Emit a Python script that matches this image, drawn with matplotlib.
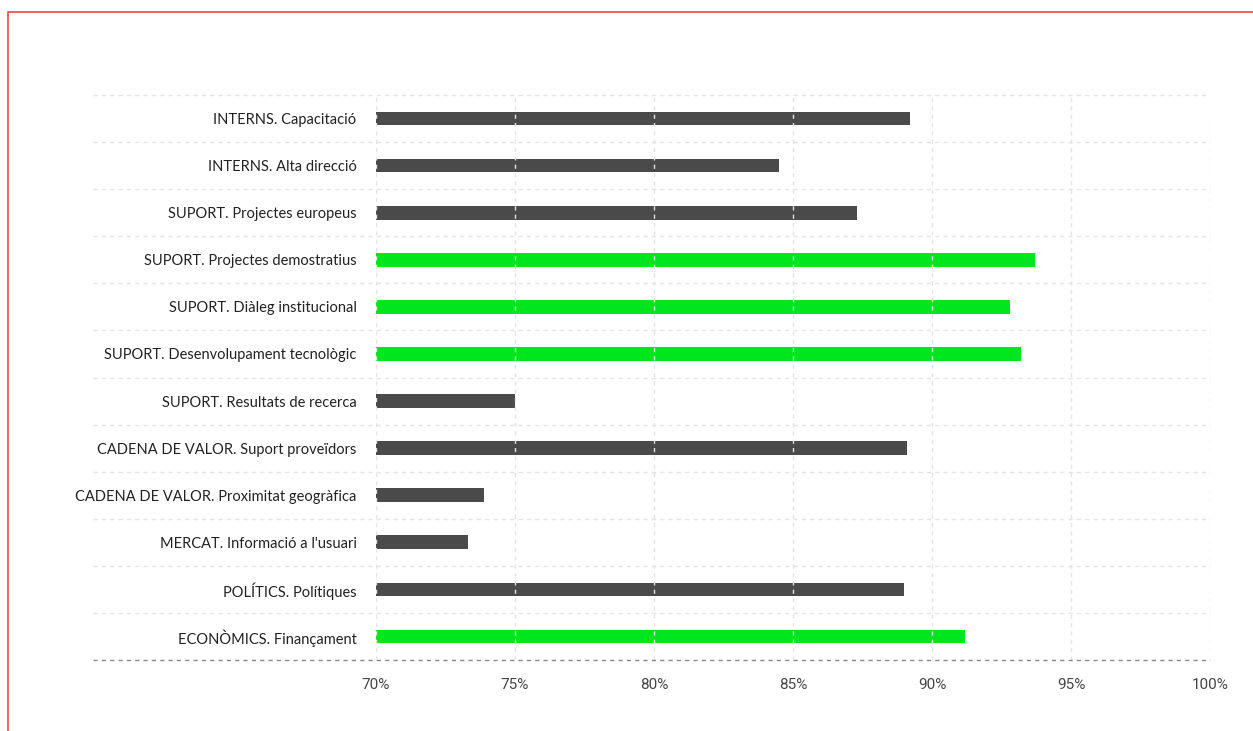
import numpy as np
import matplotlib.pyplot as plt
from matplotlib.patches import Rectangle


categories = [
    'INTERNS. Capacitació',
    'INTERNS. Alta direcció',
    'SUPORT. Projectes europeus',
    'SUPORT. Projectes demostratius',
    'SUPORT. Diàleg institucional',
    'SUPORT. Desenvolupament tecnològic',
    'SUPORT. Resultats de recerca',
    'CADENA DE VALOR. Suport proveïdors',
    'CADENA DE VALOR. Proximitat geogràfica',
    "MERCAT. Informació a l'usuari",
    'POLÍTICS. Polítiques',
    'ECONÒMICS. Finançament',
]
values = [89.2, 84.5, 87.3, 93.7, 92.8, 93.2, 75.0, 89.1, 73.9, 73.3, 89.0, 91.2]
highlight = [False, False, False, True, True, True, False, False, False, False, False, True]
x_ticks = [70, 75, 80, 85, 90, 95, 100]

dark = '#4a4a4a'
green = '#00e61e'

fig = plt.figure(figsize=(12.53, 7.31), dpi=100)
ax = fig.add_axes([376 / 1253, 1 - 660 / 731, (1210 - 376) / 1253, (660 - 95) / 731])

# red frame around the picture (cut off on right and bottom)
fig.patches.append(Rectangle((8 / 1253, -0.1), 1.2, 1 - 12 / 731 + 0.1,
                             transform=fig.transFigure, fill=False,
                             edgecolor='#e8474c', linewidth=1.2))

y = np.arange(len(categories))
colors = [green if h else dark for h in highlight]
ax.barh(y, values, height=0.29, color=colors, zorder=2)

ax.set_xlim(70, 100)
ax.set_ylim(len(categories) - 0.5, -0.5)

# vertical grid on top of bars
for xt in x_ticks:
    ax.axvline(xt, color='#e4e4e4', linewidth=1, linestyle=(0, (3, 3)), zorder=3)

# horizontal separators reach into label area
left = (93 - 376) / (1210 - 376)
trans = ax.get_yaxis_transform()
for yl in np.arange(-0.5, len(categories) - 0.5, 1):
    ax.plot([left, 1], [yl, yl], transform=trans, color='#e4e4e4', linewidth=1,
            linestyle=(0, (3, 3)), clip_on=False, zorder=1)
ax.plot([left, 1], [len(categories) - 0.5] * 2, transform=trans, color='#888888',
        linewidth=1, linestyle=(0, (3, 3)), clip_on=False, zorder=4)

for s in ax.spines.values():
    s.set_visible(False)

ax.set_yticks(y)
ax.set_yticklabels(categories, fontsize=10.5, color='#222222', family='Lato')
ax.set_xticks(x_ticks)
ax.set_xticklabels([f'{t}%' for t in x_ticks], fontsize=11, color='#444444', family='Roboto')
ax.tick_params(axis='y', length=0, pad=14)
ax.tick_params(axis='x', length=0, pad=13)

fig.savefig('out.png', dpi=100)
